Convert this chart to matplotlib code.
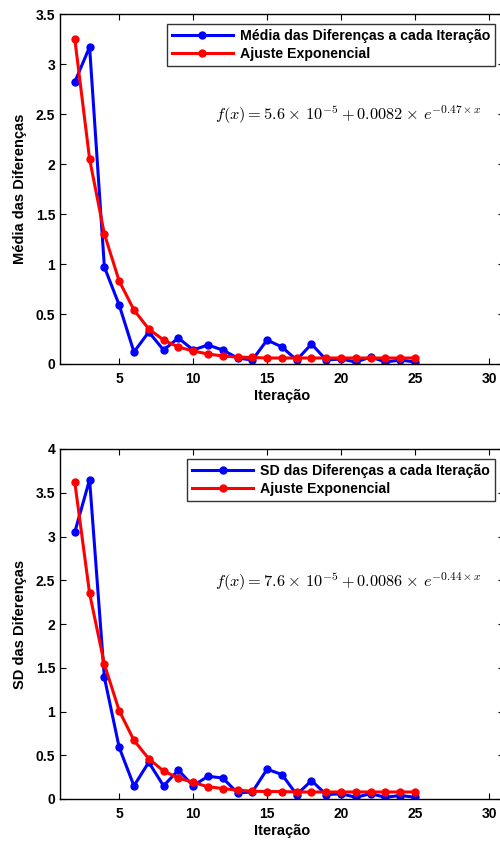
import numpy as np
import matplotlib
matplotlib.use("Agg")
import matplotlib.pyplot as plt

plt.rcParams['font.family'] = ['Liberation Sans', 'DejaVu Sans']
plt.rcParams['font.weight'] = 'bold'
plt.rcParams['mathtext.fontset'] = 'cm'

# dados
iteracao = list(range(2, 26))

media = [2.82, 3.17, 0.97, 0.59, 0.12, 0.32, 0.14, 0.26, 0.14, 0.19, 0.14, 0.06,
         0.04, 0.24, 0.17, 0.04, 0.20, 0.04, 0.05, 0.02, 0.07, 0.02, 0.04, 0.02]
media_ajuste = [3.25, 2.05, 1.30, 0.83, 0.54, 0.35, 0.24, 0.17, 0.13, 0.10, 0.08, 0.07,
                0.065, 0.06, 0.06, 0.06, 0.06, 0.06, 0.06, 0.06, 0.06, 0.06, 0.06, 0.06]

sd = [3.05, 3.65, 1.39, 0.59, 0.15, 0.42, 0.15, 0.33, 0.15, 0.26, 0.24, 0.07,
      0.08, 0.34, 0.28, 0.05, 0.21, 0.05, 0.06, 0.02, 0.06, 0.02, 0.04, 0.02]
sd_ajuste = [3.62, 2.35, 1.54, 1.01, 0.67, 0.46, 0.32, 0.24, 0.19, 0.14, 0.12, 0.10,
             0.09, 0.085, 0.085, 0.08, 0.08, 0.08, 0.08, 0.08, 0.08, 0.08, 0.08, 0.08]

xticks = [5, 10, 15, 20, 25, 30]

paineis = [
    dict(y=media, fit=media_ajuste, ylab='Média das Diferenças',
         leg='Média das Diferenças a cada Iteração', ylim=3.5,
         yticks=[0, 0.5, 1, 1.5, 2, 2.5, 3, 3.5],
         eq=r'$f(x) = 5.6\times\,10^{-5} + 0.0082\times\,e^{-0.47\times x}$',
         pos=[60, 14, 364], eqy=0.711),
    dict(y=sd, fit=sd_ajuste, ylab='SD das Diferenças',
         leg='SD das Diferenças a cada Iteração', ylim=4,
         yticks=[0, 0.5, 1, 1.5, 2, 2.5, 3, 3.5, 4],
         eq=r'$f(x) = 7.6\times\,10^{-5} + 0.0086\times\,e^{-0.44\times x}$',
         pos=[60, 449, 799], eqy=0.62),
]

W, H = 500, 843
fig = plt.figure(figsize=(W / 100, H / 100), dpi=100)

for p in paineis:
    esq, topo, base = p['pos']
    larg = 503.8 - esq
    alt = base - topo
    ax = fig.add_axes([esq / W, 1 - base / H, larg / W, alt / H])
    ax.plot(iteracao, p['y'], '-o', color='#0000ff', lw=2.2, ms=5, label=p['leg'])
    ax.plot(iteracao, p['fit'], '-o', color='#ff0000', lw=2.2, ms=5, label='Ajuste Exponencial')
    ax.set_xlim(1, 31)
    ax.set_ylim(0, p['ylim'])
    ax.set_xticks(xticks)
    ax.set_yticks(p['yticks'])
    ax.set_yticklabels([('%g' % v) for v in p['yticks']])
    ax.tick_params(direction='in', top=True, right=True, length=4, width=0.8, labelsize=10)
    ax.tick_params(axis='x', pad=6)
    for s in ax.spines.values():
        s.set_linewidth(1.0)
    ax.set_xlabel('Iteração', fontsize=10.5, fontweight='bold', labelpad=2)
    ax.set_ylabel(p['ylab'], fontsize=10.5, fontweight='bold', labelpad=6)
    leg = ax.legend(loc='upper right', bbox_to_anchor=((495 - esq) / larg, 1 - 10 / alt),
                    fontsize=10.2, frameon=True, fancybox=False, handlelength=4.3,
                    borderpad=0.35, labelspacing=0.3, handletextpad=0.5, borderaxespad=0)
    leg.get_frame().set_edgecolor('black')
    leg.get_frame().set_linewidth(1.0)
    ax.text((215 - esq) / larg, p['eqy'], p['eq'],
            transform=ax.transAxes, fontsize=11.8, ha='left', va='center')

fig.savefig('out.png', dpi=100)
